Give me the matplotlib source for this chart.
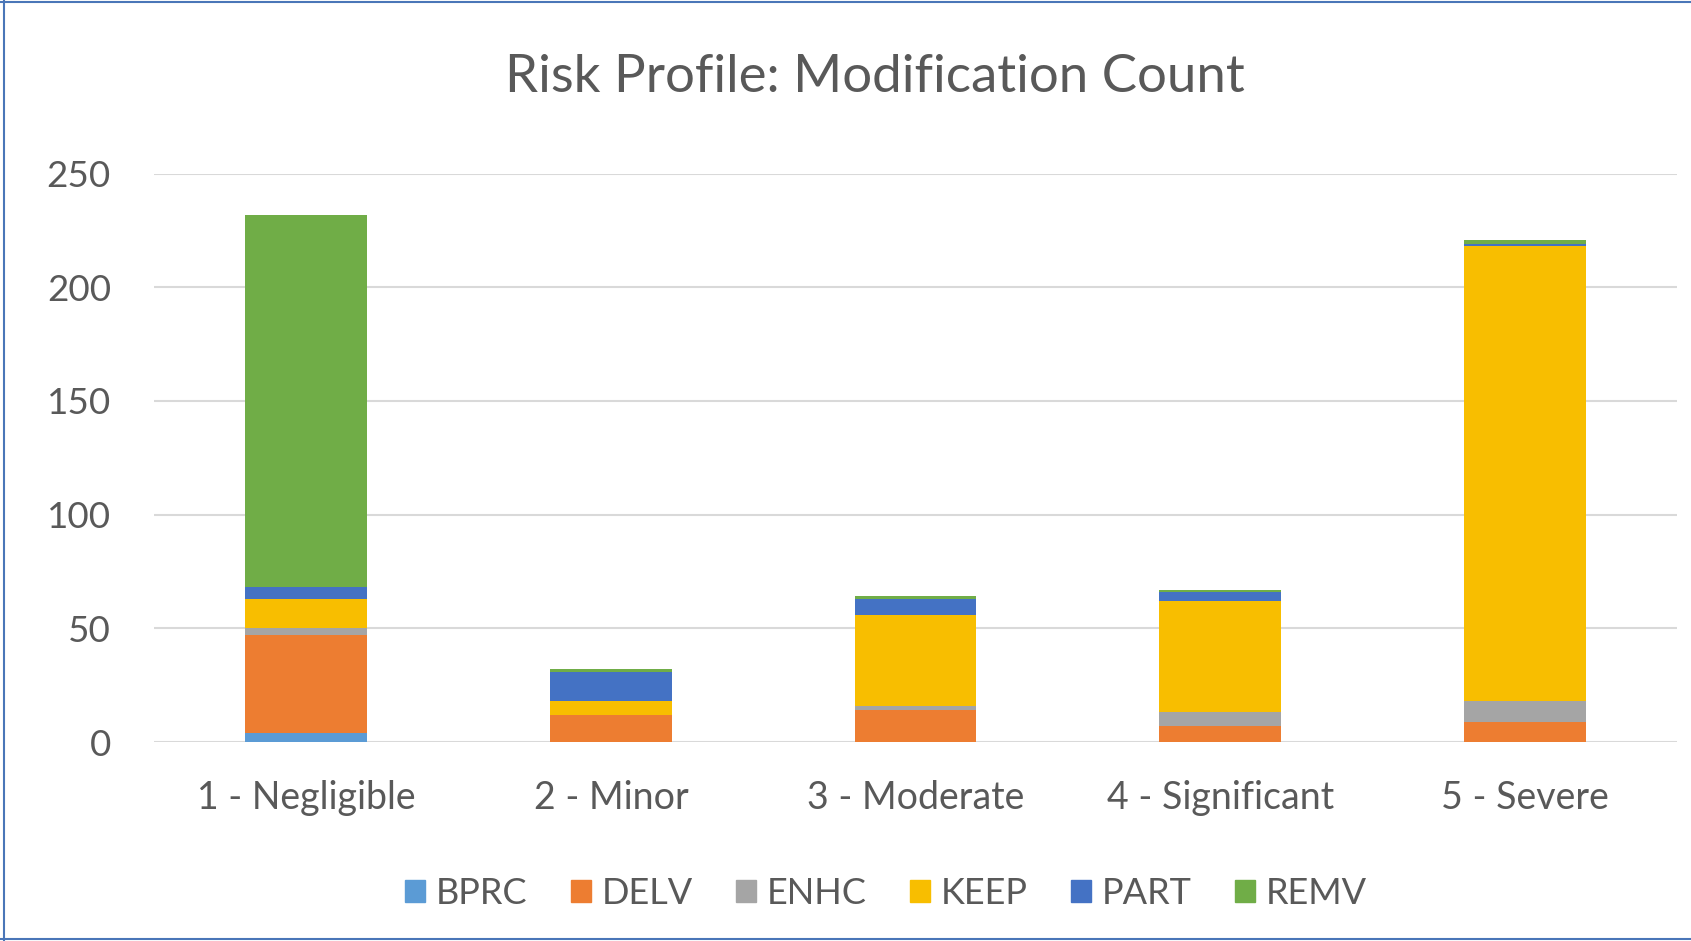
import numpy as np
import matplotlib
matplotlib.use('Agg')
import matplotlib.pyplot as plt
from matplotlib.lines import Line2D

# Data
categories = ['1 - Negligible', '2 - Minor', '3 - Moderate', '4 - Significant', '5 - Severe']
series_names = ['BPRC', 'DELV', 'ENHC', 'KEEP', 'PART', 'REMV']
bprc = [4, 0, 0, 0, 0]
delv = [43, 12, 14, 7, 9]
enhc = [3, 0, 2, 6, 9]
keep = [13, 6, 40, 49, 200]
part = [5, 13, 7, 4, 1]
remv = [164, 1, 1, 1, 2]
colors = ['#5B9BD5', '#ED7D31', '#A5A5A5', '#F8BE00', '#4472C4', '#70AD47']
yticks = [0, 50, 100, 150, 200, 250]

plt.rcParams['font.family'] = ['Lato', 'DejaVu Sans']
text_color = '#595959'

W, H = 1691, 941
fig = plt.figure(figsize=(W / 100, H / 100), dpi=100)
fig.patch.set_facecolor('white')

# plot area in pixel coordinates
left, right, top, bottom = 154, 1677, 173.6, 742
ax = fig.add_axes([left / W, 1 - bottom / H, (right - left) / W, (bottom - top) / H])

x = np.arange(len(categories))
base = np.zeros(len(categories))
for name, vals, c in zip(series_names, [bprc, delv, enhc, keep, part, remv], colors):
    ax.bar(x, vals, width=0.4, bottom=base, color=c, label=name, zorder=3)
    base += np.array(vals)

ax.set_xlim(-0.5, len(categories) - 0.5)
ax.set_ylim(0, 250)
ax.set_yticks(yticks)
ax.set_xticks(x)
ax.set_xticklabels(categories)
ax.grid(axis='y', color='#D9D9D9', linewidth=1.5, zorder=0)
for s in ax.spines.values():
    s.set_visible(False)
ax.tick_params(axis='x', length=0, labelsize=27, colors=text_color, pad=27.5)
ax.tick_params(axis='y', length=0, labelsize=26.5, colors=text_color, pad=31)

fig.text(875 / W, 1 - 78 / H, 'Risk Profile: Modification Count', ha='center', va='center',
         fontsize=38, color=text_color)

handles = [plt.Rectangle((0, 0), 1, 1, color=c) for c in colors]
fig.legend(handles, series_names, loc='center', bbox_to_anchor=(886 / W, 1 - 893 / H),
           ncol=6, frameon=False, fontsize=26, labelcolor=text_color,
           handlelength=0.55, handleheight=0.55, handletextpad=0.3, columnspacing=1.2)

# thin border around the chart
bc = '#4A76B8'
fig.add_artist(Line2D([4 / W, 4 / W], [0, 1], color=bc, linewidth=1.5))
fig.add_artist(Line2D([0, 1], [1 - 1.5 / H, 1 - 1.5 / H], color=bc, linewidth=1.5))
fig.add_artist(Line2D([0, 1], [1 - 939 / H, 1 - 939 / H], color=bc, linewidth=1.5))

fig.savefig('out.png', dpi=100, facecolor='white')
